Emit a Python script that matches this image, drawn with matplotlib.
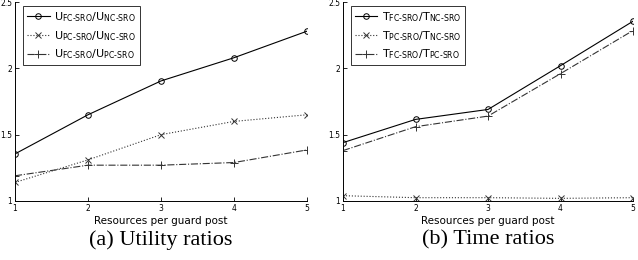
import matplotlib
matplotlib.use("Agg")
import matplotlib.pyplot as plt

resources = [1, 2, 3, 4, 5]

# (a) utility ratios
u_fc_nc = [1.355, 1.65, 1.905, 2.08, 2.28]
u_pc_nc = [1.14, 1.31, 1.50, 1.60, 1.65]
u_fc_pc = [1.19, 1.27, 1.27, 1.29, 1.385]

# (b) time ratios
t_fc_nc = [1.44, 1.615, 1.69, 2.02, 2.355]
t_pc_nc = [1.04, 1.025, 1.025, 1.02, 1.025]
t_fc_pc = [1.38, 1.56, 1.64, 1.96, 2.285]

y_ticks = [1, 1.5, 2, 2.5]
y_tick_labels = ["1", "1.5", "2", "2.5"]

u_labels = [r"U$_{\mathregular{FC\text{-}SRO}}$/U$_{\mathregular{NC\text{-}SRO}}$",
            r"U$_{\mathregular{PC\text{-}SRO}}$/U$_{\mathregular{NC\text{-}SRO}}$",
            r"U$_{\mathregular{FC\text{-}SRO}}$/U$_{\mathregular{PC\text{-}SRO}}$"]
t_labels = [r"T$_{\mathregular{FC\text{-}SRO}}$/T$_{\mathregular{NC\text{-}SRO}}$",
            r"T$_{\mathregular{PC\text{-}SRO}}$/T$_{\mathregular{NC\text{-}SRO}}$",
            r"T$_{\mathregular{FC\text{-}SRO}}$/T$_{\mathregular{PC\text{-}SRO}}$"]

plt.rcParams['font.family'] = 'DejaVu Sans'
plt.rcParams['mathtext.fontset'] = 'dejavusans'

fig = plt.figure(figsize=(6.38, 2.6), dpi=100)
W, H = 638.0, 260.0
ax1 = fig.add_axes([15 / W, (260 - 201) / H, 292 / W, 199 / H])
ax2 = fig.add_axes([343 / W, (260 - 201) / H, 290 / W, 199 / H])


def draw(ax, series, labels, caption):
    styles = [('-', 'o', 4.0, 'black'), (':', 'x', 4.5, '#333333'), ('-.', '+', 5.5, '#333333')]
    for ys, lab, (ls, mk, ms, c) in zip(series, labels, styles):
        ax.plot(resources, ys, linestyle=ls, marker=mk, color=c, lw=0.8,
                markersize=ms, markerfacecolor='none', markeredgewidth=0.7, label=lab)
    ax.set_xlim(1, 5)
    ax.set_ylim(1, 2.5)
    ax.set_xticks(resources)
    ax.set_yticks(y_ticks)
    ax.set_yticklabels(y_tick_labels)
    ax.tick_params(direction='in', labelsize=5.5, length=3, width=0.6, pad=2)
    ax.spines['top'].set_visible(False)
    ax.spines['right'].set_visible(False)
    for s in ['left', 'bottom']:
        ax.spines[s].set_linewidth(0.7)
    ax.set_xlabel("Resources per guard post", fontsize=7.5, labelpad=2)
    leg = ax.legend(loc='upper left', bbox_to_anchor=(0.025, 0.985), fontsize=8,
                    frameon=True, fancybox=False, edgecolor='black',
                    handlelength=2.0, handletextpad=0.4, borderpad=0.35,
                    labelspacing=0.45, borderaxespad=0.1)
    leg.get_frame().set_linewidth(0.7)
    bb = ax.get_position()
    fig.text((bb.x0 + bb.x1) / 2, (260 - 240) / H, caption, ha='center', va='center',
             fontsize=16, family='Liberation Serif')


draw(ax1, [u_fc_nc, u_pc_nc, u_fc_pc], u_labels, "(a) Utility ratios")
draw(ax2, [t_fc_nc, t_pc_nc, t_fc_pc], t_labels, "(b) Time ratios")

fig.savefig("out.png", dpi=100)
